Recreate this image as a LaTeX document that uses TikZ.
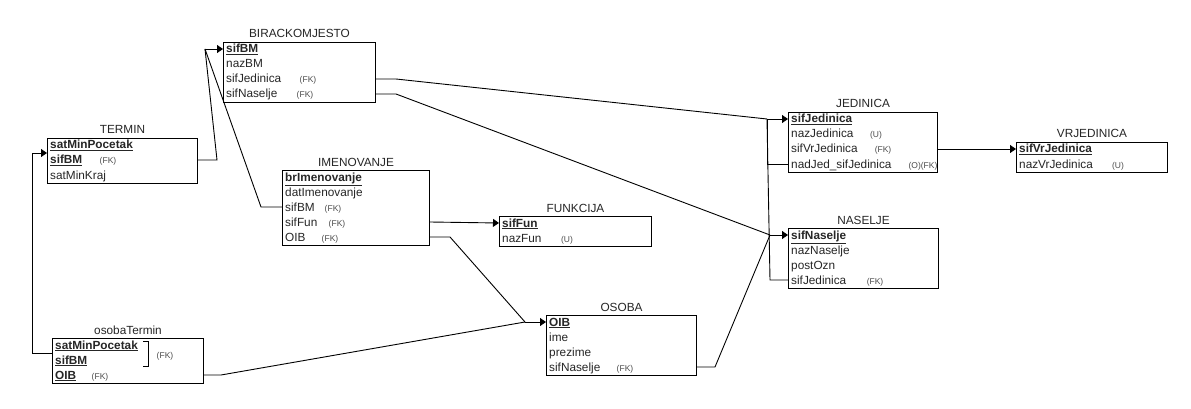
\documentclass[tikz,border=0pt]{standalone}
\usepackage{fontspec}
\setmainfont{Liberation Sans}
\usetikzlibrary{arrows.meta,calc}
\newcommand{\pk}[1]{\textbf{\underline{#1}}}
\begin{document}
\begin{tikzpicture}[x=1pt,y=-1pt,
  tbl/.style={draw=black,line width=1pt,anchor=north west,inner sep=0pt},
  ttl/.style={anchor=base,inner sep=0pt,text=black!85,font=\fontsize{11.8}{13}\selectfont},
  fld/.style={anchor=base west,inner sep=0pt,text=black!85,font=\fontsize{11.8}{13}\selectfont},
  ann/.style={anchor=base,inner sep=0pt,text=black!70,font=\fontsize{8.5}{9}\selectfont},
  con/.style={draw=black,line width=0.9pt},
  arr/.style={con,-{Triangle[length=6pt,width=8pt]}}]
\useasboundingbox[fill=white] (0,0) rectangle (1191,409);

% ---------- BIRACKOMJESTO ----------
\node[tbl,minimum width=152pt,minimum height=60pt] (bm) at (223,42) {};
\node[ttl] (bmT) at ($(bm.north)+(0,-4)$) {BIRACKOMJESTO};
\node[fld] (b1) at (226,53) {\pk{sifBM}};
\node[fld] (b2) at (226,68) {nazBM};
\node[fld] (b3) at (226,83) {sifJedinica};
\node[fld] (b4) at (226,98) {sifNaselje};
\node[ann] (b3a) at (308,83) {(FK)};
\node[ann] (b4a) at (305,98) {(FK)};

% ---------- TERMIN ----------
\node[tbl,minimum width=150pt,minimum height=45pt] (termin) at (47,138) {};
\node[ttl] (terminT) at ($(termin.north)+(0,-4)$) {TERMIN};
\node[fld] (t1) at (50,149) {\pk{satMinPocetak}};
\node[fld] (t2) at (50,164) {\pk{sifBM}};
\node[fld] (t3) at (50,179) {satMinKraj};
\node[ann] (t2a) at (108,164) {(FK)};

% ---------- IMENOVANJE ----------
\node[tbl,minimum width=147pt,minimum height=75pt] (imen) at (282,170) {};
\node[ttl] (imenT) at ($(imen.north)+(0,-4)$) {IMENOVANJE};
\node[fld] (i1) at (285,181) {\pk{brImenovanje}};
\node[fld] (i2) at (285,196) {datImenovanje};
\node[fld] (i3) at (285,211) {sifBM};
\node[fld] (i4) at (285,226) {sifFun};
\node[fld] (i5) at (285,241) {OIB};
\node[ann] (i3a) at (333,211) {(FK)};
\node[ann] (i4a) at (337,226) {(FK)};
\node[ann] (i5a) at (330,241) {(FK)};

% ---------- FUNKCIJA ----------
\node[tbl,minimum width=152pt,minimum height=30pt] (funk) at (499,216) {};
\node[ttl] (funkT) at ($(funk.north)+(0,-4)$) {FUNKCIJA};
\node[fld] (f1) at (502,227) {\pk{sifFun}};
\node[fld] (f2) at (502,242) {nazFun};
\node[ann] (f2a) at (567,242) {(U)};

% ---------- OSOBA ----------
\node[tbl,minimum width=150pt,minimum height=60pt] (osoba) at (546,315) {};
\node[ttl] (osobaT) at ($(osoba.north)+(0,-4)$) {OSOBA};
\node[fld] (o1) at (549,326) {\pk{OIB}};
\node[fld] (o2) at (549,341) {ime};
\node[fld] (o3) at (549,356) {prezime};
\node[fld] (o4) at (549,371) {sifNaselje};
\node[ann] (o4a) at (625,371) {(FK)};

% ---------- osobaTermin ----------
\node[tbl,minimum width=151pt,minimum height=45pt] (ot) at (52,338) {};
\node[ttl] (otT) at ($(ot.north)+(0,-4)$) {osobaTermin};
\node[fld] (ot1) at (55,349) {\pk{satMinPocetak}};
\node[fld] (ot2) at (55,364) {\pk{sifBM}};
\node[fld] (ot3) at (55,379) {\pk{OIB}};
\node[ann] (ot3a) at (100,379) {(FK)};
\node[ann] (ot12a) at (165,358) {(FK)};
% bracket grouping the composite key
\draw[line width=0.9pt] (143,341) -- (148,341) -- (148,366) -- (143,366);

% ---------- JEDINICA ----------
\node[tbl,minimum width=149pt,minimum height=60pt] (jed) at (788,112) {};
\node[ttl] (jedT) at ($(jed.north)+(0,-4)$) {JEDINICA};
\node[fld] (j1) at (791,123) {\pk{sifJedinica}};
\node[fld] (j2) at (791,138) {nazJedinica};
\node[fld] (j3) at (791,153) {sifVrJedinica};
\node[fld] (j4) at (791,168) {nadJed\_sifJedinica};
\node[ann] (j2a) at (876,138) {(U)};
\node[ann] (j3a) at (883,153) {(FK)};
\node[ann] (j4a) at (923,168) {(O)(FK)};

% ---------- VRJEDINICA ----------
\node[tbl,minimum width=151pt,minimum height=30pt] (vrj) at (1016,142) {};
\node[ttl] (vrjT) at ($(vrj.north)+(0,-4)$) {VRJEDINICA};
\node[fld] (v1) at (1019,153) {\pk{sifVrJedinica}};
\node[fld] (v2) at (1019,168) {nazVrJedinica};
\node[ann] (v2a) at (1118,168) {(U)};

% ---------- NASELJE ----------
\node[tbl,minimum width=150pt,minimum height=60pt] (nas) at (788,228) {};
\node[ttl] (nasT) at ($(nas.north)+(0,-4)$) {NASELJE};
\node[fld] (n1) at (791,239) {\pk{sifNaselje}};
\node[fld] (n2) at (791,254) {nazNaselje};
\node[fld] (n3) at (791,269) {postOzn};
\node[fld] (n4) at (791,284) {sifJedinica};
\node[ann] (n4a) at (875,284) {(FK)};

% ---------- junction points of the relationship lines ----------
\coordinate (jBM) at (205,49);
\coordinate (jJed) at (767,119);
\coordinate (jNas) at (770,235);
\coordinate (jOIB) at (525,322);

% ---------- relationships ----------
% references to BIRACKOMJESTO.sifBM
\draw[con] ($(termin.north east)+(0,22)$) -- ++(19,0) -- (jBM);
\draw[con] ($(imen.north west)+(0,37)$) -- ++(-21,0) -- (jBM);
\draw[arr] (jBM) -- ($(bm.north west)+(0,7)$);

% references to JEDINICA.sifJedinica
\draw[con] ($(bm.north east)+(0,37)$) -- ++(20,0) -- (jJed);
\draw[con] ($(jed.north west)+(0,52)$) -- ++(-21,0) -- (jJed);
\draw[con] ($(nas.north west)+(0,52)$) -- ++(-18,0) -- (jJed);
\draw[arr] (jJed) -- ($(jed.north west)+(0,7)$);

% references to NASELJE.sifNaselje
\draw[con] ($(bm.north east)+(0,52)$) -- ++(20,0) -- (jNas);
\draw[con] ($(osoba.north east)+(0,52)$) -- ++(18,0) -- (jNas);
\draw[arr] (jNas) -- ($(nas.north west)+(0,7)$);

% JEDINICA.sifVrJedinica -> VRJEDINICA
\draw[arr] ($(jed.north east)+(0,37)$) -- ($(vrj.north west)+(0,7)$);

% IMENOVANJE.sifFun -> FUNKCIJA
\draw[arr] ($(imen.north east)+(0,52)$) -- ($(funk.north west)+(0,7)$);

% references to OSOBA.OIB
\draw[con] ($(imen.north east)+(0,67)$) -- ++(20,0) -- (jOIB);
\draw[con] ($(ot.north east)+(0,37)$) -- ++(17,0) -- (jOIB);
\draw[arr] (jOIB) -- ($(osoba.north west)+(0,7)$);

% osobaTermin (satMinPocetak, sifBM) -> TERMIN
\draw[arr] ($(ot.north west)+(0,15)$) -- ++(-20,0) |- ($(termin.north west)+(0,15)$);
\end{tikzpicture}
\end{document}
